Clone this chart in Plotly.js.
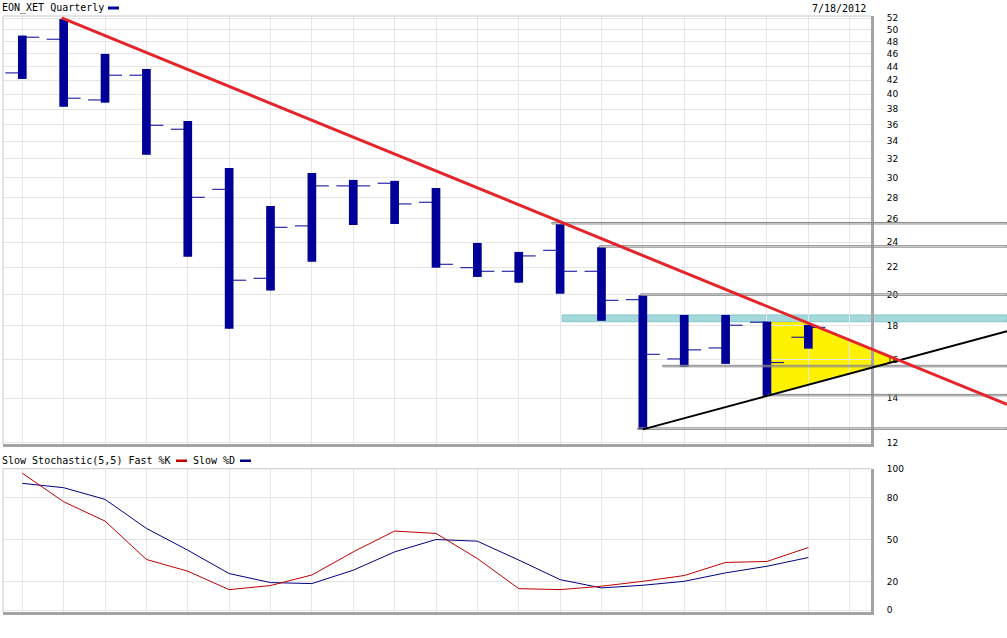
<!DOCTYPE html>
<html>
<head>
<meta charset="utf-8">
<script src="https://cdn.plot.ly/plotly-3.0.1.min.js"></script>
<style>
html,body{margin:0;padding:0;background:#ffffff;}
#chart{width:1007px;height:638px;}
</style>
</head>
<body>
<div id="chart"></div>
<script>
// ---------------- DATA ----------------
const barIndex = [0,1,2,3,4,5,6,7,8,9,10,11,12,13,14,15,16,17,18,19];
const openPx  = [43.05,48.36,39.21,42.71,35.44,28.80,21.18,25.38,29.14,29.41,27.54,21.97,21.70,23.33,21.70,19.67,16.03,16.65,18.20,17.28];
const highPx  = [48.97,51.87,45.97,43.65,36.47,31.01,27.19,30.47,29.75,29.65,28.93,23.93,23.20,25.55,23.58,19.97,18.66,18.66,18.23,18.03];
const lowPx   = [42.16,38.31,38.85,32.46,22.82,17.80,20.30,22.43,25.46,25.55,21.97,21.28,20.86,20.08,18.29,12.57,15.60,15.76,14.11,16.61];
const closePx = [48.70,39.45,42.71,35.93,28.02,21.04,25.26,29.14,29.14,27.38,22.23,21.70,22.88,21.70,19.63,16.29,16.54,18.01,15.83,17.88];

const fastK = [97.2,76.9,63.2,35.9,27.6,14.5,17.4,24.9,41.3,56.1,54.4,36.6,15.2,14.5,16.9,20.4,24.5,33.8,34.5,44.4];
const slowD = [90.0,86.9,78.6,58.0,42.5,25.9,19.5,18.8,28.3,41.3,50.1,48.9,35.5,21.6,15.7,17.6,20.4,26.4,31.1,37.3];

const gridIdx = [0,1,2,3,4,5,6,7,8,9,10,11,12,13,14,15,16,17,18,19,20];
const priceTicks = [12,14,16,18,20,22,24,26,28,30,32,34,36,38,40,42,44,46,48,50,52];
const stochTicks = [0,20,50,80,100];

const titleText = 'EON_XET Quarterly';
const dateText = '7/18/2012';
const stochTitleK = 'Slow Stochastic(5,5) Fast %K';
const stochTitleD = 'Slow %D';

// drawn annotations (trend lines anchored to bars)
const redAnchorA = {i:1, v:51.9};
const redAnchorB = {i:13, v:25.75};
const supportA = 15, supportB = 18;     // black line through lows of these bars
// horizontal support/resistance levels: bar, field, start index
const levels = [
  {bar:13, field:'high', start:12.8},
  {bar:14, field:'high', start:13.95},
  {bar:15, field:'high', start:14.95},
  {bar:16, field:'low',  start:15.48},
  {bar:18, field:'low',  start:18.03},
  {bar:15, field:'low',  start:14.87}
];

// ---------------- LAYOUT HELPERS ----------------
const X0 = -0.4665, X1 = 20.515;
const W = 1007, H = 638, ML = 3, MR = 136, MT = 16, MB = 26;
const PW = W - ML - MR, PH = H - MT - MB;
const paperX = i => (i - X0) / (X1 - X0);
const pxToPaperX = px => (px - ML) / PW;
const pxToPaperY = py => (H - MB - py) / PH;
const RIGHT = pxToPaperX(W);
const idxRight = X0 + RIGHT * (X1 - X0);
const field = (f, b) => f === 'high' ? highPx[b] : lowPx[b];

function logLine(a, b) {
  const la = Math.log(a.v), lb = Math.log(b.v);
  const s = (lb - la) / (b.i - a.i);
  return {at: i => Math.exp(la + s * (i - a.i)), la, s, i0: a.i};
}
const red = logLine(redAnchorA, redAnchorB);
const blk = logLine({i:supportA, v:lowPx[supportA]}, {i:supportB, v:lowPx[supportB]});

// apex (intersection) and crossing of red with bar-18 high
const iApex = (blk.la - blk.s*blk.i0 - red.la + red.s*red.i0) / (red.s - blk.s);
const vApex = red.at(iApex);
const iCross = red.i0 + (Math.log(highPx[18]) - red.la) / red.s;

const shapes = [];
// yellow triangle (below traces)
shapes.push({type:'path', xref:'paper', yref:'y', layer:'below',
  path:`M ${paperX(18)},${highPx[18]} L ${paperX(iCross)},${highPx[18]} L ${paperX(iApex)},${vApex} L ${paperX(18)},${lowPx[18]} Z`,
  fillcolor:'#fff200', line:{width:0}});
// light blue band
shapes.push({type:'rect', xref:'paper', yref:'y', layer:'below',
  x0:paperX(13.05), x1:RIGHT, y0:highPx[18], y1:highPx[16],
  fillcolor:'#a3d8dc', line:{color:'#86c6ca', width:1}});
// gray level lines
levels.forEach(l => {
  shapes.push({type:'rect', xref:'paper', yref:'y', layer:'above',
    ysizemode:'pixel', yanchor:field(l.field, l.bar), y0:-1.5, y1:1.5,
    x0:paperX(l.start), x1:RIGHT,
    fillcolor:'rgba(0,0,0,0)', line:{color:'#8a8a8a', width:1}});
});
// black support line
shapes.push({type:'line', xref:'paper', yref:'y', layer:'above',
  x0:paperX(supportA), y0:lowPx[supportA], x1:RIGHT, y1:blk.at(idxRight),
  line:{color:'#000000', width:2}});
// red resistance line
shapes.push({type:'line', xref:'paper', yref:'y', layer:'above',
  x0:paperX(redAnchorA.i - 0.05), y0:red.at(redAnchorA.i - 0.05), x1:RIGHT, y1:red.at(idxRight),
  line:{color:'#e4262c', width:3}});
// frame top/left (light)
[['x','y'],['x2','y2']].forEach(([xa,ya]) => {
  shapes.push({type:'line', xref:xa+' domain', yref:ya+' domain', x0:0, x1:1, y0:1, y1:1, line:{color:'#c8c8c8', width:1}});
  shapes.push({type:'line', xref:xa+' domain', yref:ya+' domain', x0:0, x1:0, y0:0, y1:1, line:{color:'#c8c8c8', width:1}});
});
// legend swatches
shapes.push({type:'rect', xref:'paper', yref:'paper', x0:pxToPaperX(108), x1:pxToPaperX(119), y0:pxToPaperY(9.5), y1:pxToPaperY(6.5), fillcolor:'#000099', line:{width:0}});
shapes.push({type:'rect', xref:'paper', yref:'paper', x0:pxToPaperX(176), x1:pxToPaperX(187), y0:pxToPaperY(462), y1:pxToPaperY(459.5), fillcolor:'#c00000', line:{width:0}});
shapes.push({type:'rect', xref:'paper', yref:'paper', x0:pxToPaperX(240), x1:pxToPaperX(251), y0:pxToPaperY(462), y1:pxToPaperY(459.5), fillcolor:'#000080', line:{width:0}});

const monoFont = {family:'DejaVu Sans Mono', size:10, color:'#000'};
const annotations = [
  {xref:'paper', yref:'paper', x:pxToPaperX(0), y:pxToPaperY(8), xanchor:'left', yanchor:'middle', text:titleText, showarrow:false, font:monoFont},
  {xref:'paper', yref:'paper', x:pxToPaperX(868), y:pxToPaperY(8), xanchor:'right', yanchor:'middle', text:dateText, showarrow:false, font:monoFont},
  {xref:'paper', yref:'paper', x:pxToPaperX(0), y:pxToPaperY(460.5), xanchor:'left', yanchor:'middle', text:stochTitleK, showarrow:false, font:monoFont},
  {xref:'paper', yref:'paper', x:pxToPaperX(191), y:pxToPaperY(460.5), xanchor:'left', yanchor:'middle', text:stochTitleD, showarrow:false, font:monoFont}
];

// ---------------- TRACES ----------------
const barLen = highPx.map((h, k) => h - lowPx[k]);
const traces = [
  {type:'bar', x:barIndex, y:barLen, base:lowPx, width:0.21, marker:{color:'#000099', line:{width:0}},
   xaxis:'x', yaxis:'y', hoverinfo:'skip'},
  {type:'ohlc', x:barIndex, open:openPx, high:highPx, low:lowPx, close:closePx, tickwidth:0.41,
   increasing:{line:{color:'#000099', width:1}}, decreasing:{line:{color:'#000099', width:1}},
   xaxis:'x', yaxis:'y', hoverinfo:'skip'},
  {type:'scatter', mode:'lines', x:barIndex, y:slowD, line:{color:'#000080', width:1}, xaxis:'x2', yaxis:'y2', hoverinfo:'skip'},
  {type:'scatter', mode:'lines', x:barIndex, y:fastK, line:{color:'#c00000', width:1}, xaxis:'x2', yaxis:'y2', hoverinfo:'skip'}
];

const gridC = '#e6e6e6';
const xCommon = {range:[X0, X1], tickvals:gridIdx, showticklabels:false, ticks:'', showgrid:true, gridcolor:gridC, gridwidth:1,
  zeroline:false, showline:true, linecolor:'#a4a4a4', linewidth:3, fixedrange:true};
const layout = {
  width:W, height:H,
  margin:{l:ML, r:MR, t:MT, b:MB, pad:0},
  paper_bgcolor:'#ffffff', plot_bgcolor:'#ffffff',
  showlegend:false,
  font:{family:'DejaVu Sans', size:9, color:'#000'},
  xaxis:Object.assign({}, xCommon, {domain:[0,1], anchor:'y', rangeslider:{visible:false}}),
  xaxis2:Object.assign({}, xCommon, {domain:[0,1], anchor:'y2'}),
  yaxis:{domain:[pxToPaperY(444), 1], type:'log', range:[Math.log10(11.95), Math.log10(52.4)], side:'right', anchor:'x',
    tickvals:priceTicks, ticktext:priceTicks.map(String), showgrid:true, gridcolor:gridC, zeroline:false,
    showline:true, linecolor:'#a4a4a4', linewidth:3, ticks:'', ticklabelstandoff:11, fixedrange:true},
  yaxis2:{domain:[0, pxToPaperY(468.7)], range:[-1.4, 100.4], side:'right', anchor:'x2',
    tickvals:stochTicks, ticktext:stochTicks.map(String), showgrid:true, gridcolor:gridC, zeroline:false,
    showline:true, linecolor:'#a4a4a4', linewidth:3, ticks:'', ticklabelstandoff:11, fixedrange:true},
  shapes:shapes,
  annotations:annotations
};

Plotly.newPlot('chart', traces, layout, {staticPlot:true, displayModeBar:false});
</script>
</body>
</html>
